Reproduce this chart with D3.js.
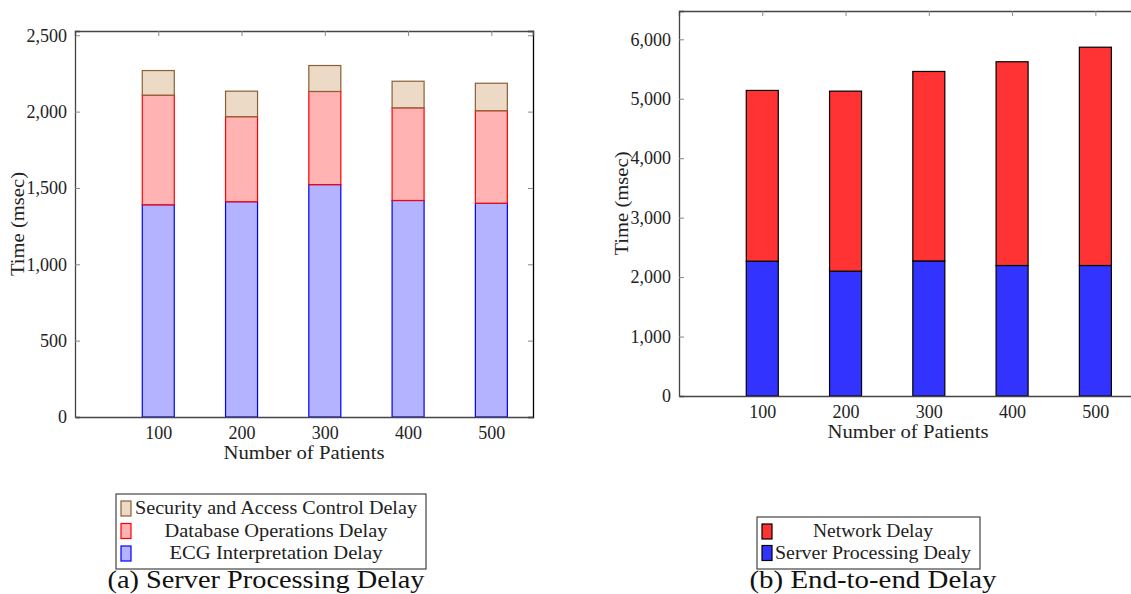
<!DOCTYPE html>
<html>
<head>
<meta charset="utf-8">
<script src="https://cdn.jsdelivr.net/npm/d3@7"></script>
<style>
  body { margin: 0; background: #fff; }
  svg { display: block; font-family: "Liberation Serif", "DejaVu Serif", serif; }
</style>
</head>
<body>
<div id="chart"></div>
<script>
// number of patients (x categories)
const patients = [100, 200, 300, 400, 500];

// (a) server processing delay components, msec
const ecgDelay = [1390, 1410, 1522, 1418, 1400];
const dbDelay = [718, 557, 610, 607, 606];
const securityDelay = [161, 167, 170, 174, 180];

// (b) end-to-end delay components, msec
const serverDelay = [2268, 2100, 2272, 2195, 2195];
const networkDelay = [2872, 3028, 3187, 3427, 3672];

const yTicksA = [0, 500, 1000, 1500, 2000, 2500];
const yTicksB = [0, 1000, 2000, 3000, 4000, 5000, 6000];

const svg = d3.select("#chart").append("svg")
  .attr("width", 1131)
  .attr("height", 594);

// text widened to mimic the Computer Modern look of the original
function label(g, txt, len, size) {
  return g.append("text")
    .attr("font-size", size)
    .attr("fill", "#222")
    .attr("textLength", len)
    .attr("lengthAdjust", "spacingAndGlyphs")
    .text(txt);
}

function drawPanel(cfg) {
  const x = d3.scaleLinear().domain([0, 550]).range([cfg.left, cfg.right]);
  const y = d3.scaleLinear().domain([0, cfg.ymax]).range([cfg.bottom, cfg.top]);
  const g = svg.append("g");

  // stacked bars
  const rows = patients.map((p, i) => {
    const r = { p: p };
    cfg.series.forEach(s => r[s.key] = s.values[i]);
    return r;
  });
  const stacked = d3.stack().keys(cfg.series.map(s => s.key))(rows);
  const bw = 32;
  stacked.forEach((layer, li) => {
    const s = cfg.series[li];
    g.append("g").selectAll("rect")
      .data(layer)
      .join("rect")
        .attr("x", d => x(d.data.p) - bw / 2)
        .attr("y", d => y(d[1]))
        .attr("width", bw)
        .attr("height", d => y(d[0]) - y(d[1]))
        .attr("fill", s.fill)
        .attr("stroke", s.stroke)
        .attr("stroke-width", 1.2);
  });

  // axes: ticks point inward on all four sides
  const fmt = d3.format(",");
  const axL = g.append("g").attr("transform", `translate(${cfg.left},0)`)
    .call(d3.axisLeft(y).tickValues(cfg.yTicks).tickFormat(fmt).tickSize(-5).tickPadding(8));
  const axR = g.append("g").attr("transform", `translate(${cfg.right},0)`)
    .call(d3.axisRight(y).tickValues(cfg.yTicks).tickFormat("").tickSize(-5));
  const axB = g.append("g").attr("transform", `translate(0,${cfg.bottom})`)
    .call(d3.axisBottom(x).tickValues(patients).tickSize(0).tickPadding(9));
  const axT = g.append("g").attr("transform", `translate(0,${cfg.top})`)
    .call(d3.axisTop(x).tickValues(patients).tickFormat("").tickSize(-5));

  [axL, axR, axB, axT].forEach(a => {
    a.select(".domain").attr("stroke", "#444").attr("stroke-width", 1.3);
    a.selectAll(".tick line").attr("stroke", "#888");
    a.selectAll("text").attr("font-family", "Liberation Serif").attr("font-size", 18).attr("fill", "#222");
  });
  axR.select(".domain").attr("stroke", "#000");

  // axis titles
  label(g, "Time (msec)", 104, 18)
    .attr("transform", `translate(${cfg.ylabX},${(cfg.top + cfg.bottom) / 2}) rotate(-90)`)
    .attr("x", -52)
    .attr("dy", "0.35em");
  label(g, "Number of Patients", 161, 18)
    .attr("x", (cfg.left + cfg.right) / 2 - 80.5)
    .attr("y", cfg.bottom + 36)
    .attr("dy", "0.35em");

  // legend, topmost series first
  const lg = cfg.legend;
  g.append("rect")
    .attr("x", lg.x).attr("y", lg.y)
    .attr("width", lg.w).attr("height", lg.h)
    .attr("fill", "#fff").attr("stroke", "#444").attr("stroke-width", 1.2);
  cfg.series.slice().reverse().forEach((s, i) => {
    const cy = lg.y + 14 + i * lg.rowH;
    g.append("rect")
      .attr("x", lg.x + 5).attr("y", cy - 7)
      .attr("width", 10).attr("height", 15)
      .attr("fill", s.fill).attr("stroke", s.stroke).attr("stroke-width", 1.2);
    label(g, s.label, s.w, 18)
      .attr("x", lg.textX - s.w / 2)
      .attr("y", cy)
      .attr("dy", "0.35em");
  });

  // caption
  label(g, cfg.caption, cfg.captionW, 25)
    .attr("x", cfg.captionX - cfg.captionW / 2)
    .attr("y", 588)
    .attr("fill", "#111");
}

drawPanel({
  left: 75, right: 533, top: 31, bottom: 417, ymax: 2528, yTicks: yTicksA, ylabX: 18,
  series: [
    { key: "ecg", values: ecgDelay, fill: "#b3b3ff", stroke: "#0000ff", label: "ECG Interpretation Delay", w: 213 },
    { key: "db", values: dbDelay, fill: "#ffb3b3", stroke: "#ff0000", label: "Database Operations Delay", w: 223 },
    { key: "sec", values: securityDelay, fill: "#ecd9c6", stroke: "#8a6035", label: "Security and Access Control Delay", w: 282 }
  ],
  legend: { x: 116, y: 494, w: 310, h: 75, rowH: 22.5, textX: 276 },
  captionX: 266, captionW: 317,
  caption: "(a) Server Processing Delay"
});

drawPanel({
  left: 679, right: 1137, top: 11, bottom: 396, ymax: 6476, yTicks: yTicksB, ylabX: 622,
  series: [
    { key: "server", values: serverDelay, fill: "#3333ff", stroke: "#000", label: "Server Processing Dealy", w: 196 },
    { key: "net", values: networkDelay, fill: "#ff3333", stroke: "#000", label: "Network Delay", w: 120 }
  ],
  legend: { x: 757, y: 517, w: 223, h: 52, rowH: 21.5, textX: 873 },
  captionX: 873, captionW: 247,
  caption: "(b) End-to-end Delay"
});
</script>
</body>
</html>
